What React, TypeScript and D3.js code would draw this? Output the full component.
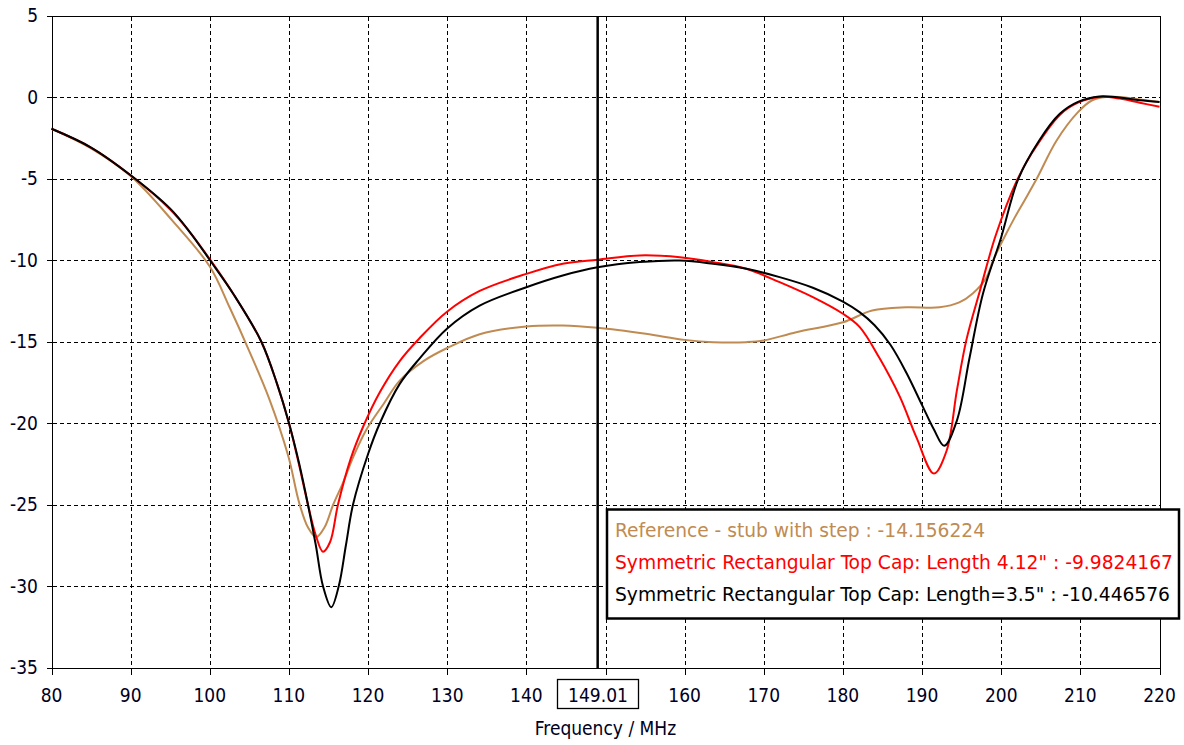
import React from 'react'
import * as d3 from 'd3'

const xTicks = [80, 90, 100, 110, 120, 130, 140, 150, 160, 170, 180, 190, 200, 210, 220]
const yTicks = [5, 0, -5, -10, -15, -20, -25, -30, -35]
const cursorFreq = 149.01

const brownFreq = [80, 85, 90, 95.3, 100, 102.5, 105, 107.5, 109.9, 111.3, 112.4, 113.45, 114.5, 115.6, 116.8, 118.2, 119.8, 122, 124, 127, 130, 134.1, 140, 144.6, 149, 155.1, 160, 163.6, 167.8, 170, 174.1, 180, 183.7, 188, 192.2, 194.7, 196.4, 198.1, 199, 200.3, 201.7, 203, 204.5, 207, 209.7, 211.5, 213.3, 215, 217.5, 220]
const brownDb = [-1.95, -3.15, -4.85, -7.6, -10.4, -12.9, -15.6, -18.5, -22, -24.9, -26.4, -27, -26.4, -25, -23.7, -22, -20.4, -18.8, -17.4, -16.2, -15.4, -14.55, -14.08, -14.02, -14.16, -14.53, -14.9, -15.04, -15.04, -14.94, -14.43, -13.82, -13.1, -12.9, -12.9, -12.6, -12.05, -11.1, -10, -8.7, -7.4, -6.3, -5, -2.67, -0.93, -0.2, 0, 0, -0.15, -0.3]

const redFreq = [80, 85, 90, 95, 97.5, 100, 103, 106.5, 108.5, 110, 111.2, 112.4, 113.4, 114.3, 115.2, 116.2, 117.8, 119.4, 121.5, 124, 126.5, 129.9, 134.1, 140, 144.6, 149, 154.3, 159.4, 163.6, 167.8, 172, 176.2, 180, 182.1, 184.6, 187.2, 189.3, 191.5, 193.1, 194.4, 195.6, 197.3, 199.3, 202, 203.8, 207.4, 209.7, 212.4, 215, 217.5, 220]
const redDb = [-1.95, -3.1, -4.8, -6.9, -8.3, -9.95, -12.1, -15, -17.6, -20, -22.4, -25, -26.9, -27.9, -27.3, -25, -22.2, -20.2, -18.1, -16.2, -14.8, -13.2, -11.9, -10.85, -10.23, -9.98, -9.72, -9.83, -10.13, -10.54, -11.36, -12.28, -13.3, -14.1, -16, -18.4, -20.9, -23.1, -21.7, -18, -14.9, -11.9, -8.5, -5.1, -3.5, -1.1, -0.35, 0, -0.1, -0.35, -0.6]

const blackFreq = [80, 85, 90, 95, 97.5, 100, 103, 106.5, 108.5, 110, 111.3, 112.4, 113.4, 114.3, 115.35, 116.3, 117.2, 118.1, 120, 121.5, 124, 126.5, 130, 134.1, 140, 144.6, 149, 154.3, 159.4, 163.6, 167.8, 172, 176.2, 180, 182.1, 184, 186, 188, 190, 191.5, 192.8, 194.4, 196, 197.7, 200, 202.1, 204.8, 207.4, 209.7, 212.4, 214.9, 217.5, 220]
const blackDb = [-1.95, -3.1, -4.8, -6.85, -8.3, -10, -12.1, -15, -17.6, -20, -22.5, -25, -27.5, -30, -31.3, -30, -27.5, -25, -21.9, -20, -17.6, -16.05, -14.2, -12.8, -11.67, -10.95, -10.45, -10.13, -10.03, -10.23, -10.54, -11.05, -11.7, -12.55, -13.2, -14, -15.2, -16.9, -18.9, -20.4, -21.4, -19.85, -16, -12.05, -8.6, -5.1, -2.67, -1.03, -0.3, 0.03, -0.03, -0.2, -0.3]

const seriesNames = [
    'Reference - stub with step : -14.156224',
    'Symmetric Rectangular Top Cap: Length 4.12" : -9.9824167',
    'Symmetric Rectangular Top Cap: Length=3.5" : -10.446576'
]
const seriesColors = ['#c08b52', '#ff0000', '#000000']
const legendWidths = [370, 558, 555]

const font = "'DejaVu Sans Condensed', 'DejaVu Sans', sans-serif"

function App() {
    const width = 1184
    const height = 745
    const x = d3.scaleLinear().domain([80, 220]).range([51.5, 1159.5])
    const y = d3.scaleLinear().domain([-35, 5]).range([667.5, 15.5])
    const px = v => Math.round(x(v)) + 0.5
    const py = v => Math.round(y(v)) + 0.5

    const line = d3.line()
        .x(d => x(d[0]))
        .y(d => y(d[1]))
        .curve(d3.curveCatmullRom.alpha(0.5))

    const series = [
        d3.zip(brownFreq, brownDb),
        d3.zip(redFreq, redDb),
        d3.zip(blackFreq, blackDb)
    ]

    const left = px(80), right = px(220), top = py(5), bottom = py(-35)

    return (
        <svg width={width} height={height}
            style={{ position: 'absolute', left: 0, top: 0, background: '#fff' }}
            fontFamily={font}>
            <rect width={width} height={height} fill="#fff" />
            <g stroke="#000" strokeWidth={1} strokeDasharray="4,3" shapeRendering="crispEdges">
                {xTicks.slice(1, -1).map(t =>
                    <line key={'gx' + t} x1={px(t)} x2={px(t)} y1={top} y2={bottom} />)}
                {yTicks.slice(1, -1).map(t =>
                    <line key={'gy' + t} x1={left} x2={right} y1={py(t)} y2={py(t)} />)}
            </g>
            <g stroke="#000" strokeWidth={1} shapeRendering="crispEdges">
                {xTicks.map(t =>
                    <line key={'tx' + t} x1={px(t)} x2={px(t)} y1={bottom} y2={bottom + 6} />)}
                {yTicks.map(t =>
                    <line key={'ty' + t} x1={left - 6} x2={left} y1={py(t)} y2={py(t)} />)}
                <rect x={left} y={top} width={right - left} height={bottom - top} fill="none" />
            </g>
            <g fill="none" strokeWidth={2} strokeLinejoin="round">
                {series.map((s, i) =>
                    <path key={i} d={line(s)} stroke={seriesColors[i]} />)}
            </g>
            <line x1={x(cursorFreq)} x2={x(cursorFreq)} y1={top} y2={bottom}
                stroke="#000" strokeWidth={2.5} />
            <g fontSize={19} fill="#000022">
                {yTicks.map(t =>
                    <text key={'ly' + t} x={38} y={y(t)} textAnchor="end" dy="0.35em">{t}</text>)}
                {xTicks.filter(t => t !== 150).map(t =>
                    <text key={'lx' + t} x={x(t)} y={702} textAnchor="middle">{t}</text>)}
            </g>
            <rect x={557.5} y={679.5} width={81} height={29} fill="#fff" stroke="#000" strokeWidth={1.3} />
            <text x={598} y={702} textAnchor="middle" fontSize={19} fill="#000022">{cursorFreq.toFixed(2)}</text>
            <text x={605.5} y={735} textAnchor="middle" fontSize={19} fill="#000022">Frequency / MHz</text>
            <rect x={607} y={509.5} width={572} height={109} fill="#fff" stroke="#000" strokeWidth={2.5} />
            <g fontSize={19}>
                {seriesNames.map((n, i) =>
                    <text key={n} x={615} y={537 + i * 32} fill={seriesColors[i]}
                        textLength={legendWidths[i]} lengthAdjust="spacingAndGlyphs">{n}</text>)}
            </g>
        </svg>
    )
}
export default App
